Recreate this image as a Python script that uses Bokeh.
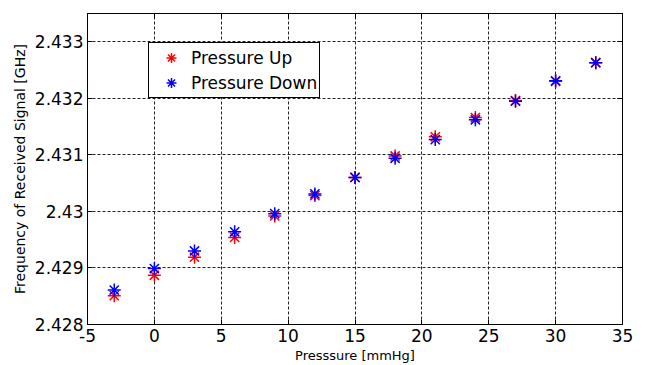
from bokeh.plotting import figure
from bokeh.models import (FixedTicker, CustomJSTickFormatter, LinearAxis,
                          Legend, LegendItem, Range1d)
from bokeh.embed import file_html
from bokeh.resources import INLINE

# Data
pressure = [-3, 0, 3, 6, 9, 12, 15, 18, 21, 24, 27, 30, 33]
freq_up = [2.42851, 2.42887, 2.42919, 2.42954, 2.42992, 2.43028, 2.43060,
           2.43098, 2.43132, 2.43166, 2.43196, 2.43230, 2.43263]
freq_down = [2.42861, 2.42899, 2.42930, 2.42964, 2.42996, 2.43031, 2.43060,
             2.43094, 2.43127, 2.43162, 2.43195, 2.43231, 2.43263]
x_ticks = [-5, 0, 5, 10, 15, 20, 25, 30, 35]
y_ticks = [2.428, 2.429, 2.430, 2.431, 2.432, 2.433]
x_label = "Presssure [mmHg]"
y_label = "Frequency of Received Signal [GHz]"
series_names = ["Pressure Up", "Pressure Down"]

FONT = "DejaVu Sans"

p = figure(width=650, height=365,
           min_border_left=87, min_border_right=28, min_border_top=13, min_border_bottom=41,
           x_range=Range1d(-5, 35), y_range=Range1d(2.428, 2.4335),
           output_backend="svg", toolbar_location=None, background_fill_color="white",
           border_fill_color="white")

p.outline_line_color = "black"
p.outline_line_alpha = 1.0
p.outline_line_width = 1

fmt_x = CustomJSTickFormatter(code="return tick.toFixed(0);")
fmt_y = CustomJSTickFormatter(code="return Number(tick.toFixed(3)).toString();")

p.xaxis.ticker = FixedTicker(ticks=x_ticks)
p.xaxis.formatter = fmt_x
p.yaxis.ticker = FixedTicker(ticks=y_ticks)
p.yaxis.formatter = fmt_y

for ax in [p.xaxis[0], p.yaxis[0]]:
    ax.major_tick_in = 5
    ax.major_tick_out = 0
    ax.minor_tick_line_color = None
    ax.axis_line_color = "black"
    ax.major_tick_line_color = "black"
    ax.major_label_text_font = FONT
    ax.major_label_text_font_size = "17px"
    ax.major_label_text_color = "black"
    ax.axis_label_text_font = FONT
    ax.axis_label_text_font_style = "normal"
    ax.axis_label_text_color = "black"

p.xaxis.major_label_standoff = 4
p.xaxis.axis_label = x_label
p.xaxis.axis_label_text_font_size = "13px"
p.xaxis.axis_label_standoff = 3

p.yaxis.major_label_standoff = 4
p.yaxis.axis_label = y_label
p.yaxis.axis_label_text_font_size = "14px"
p.yaxis.axis_label_standoff = 4

# Ticks on top and right (box style)
empty_fmt = CustomJSTickFormatter(code="return '';")
right_ax = LinearAxis(ticker=FixedTicker(ticks=y_ticks), formatter=empty_fmt,
                      major_tick_in=5, major_tick_out=0, minor_tick_line_color=None,
                      axis_line_color="black", major_label_standoff=0,
                      major_label_text_font_size="1px")
top_ax = LinearAxis(ticker=FixedTicker(ticks=x_ticks), formatter=empty_fmt,
                    major_tick_in=5, major_tick_out=0, minor_tick_line_color=None,
                    axis_line_color="black", major_label_standoff=0,
                    major_label_text_font_size="1px")
p.add_layout(right_ax, "right")
p.add_layout(top_ax, "above")

for g in [p.xgrid[0], p.ygrid[0]]:
    g.grid_line_color = "#222222"
    g.grid_line_dash = "3 2"
    g.grid_line_width = 1

r_up = p.scatter(pressure, freq_up, marker="asterisk", size=13, line_color="#ff0000",
                 line_width=1.5)
r_down = p.scatter(pressure, freq_down, marker="asterisk", size=13, line_color="#0000ff",
                   line_width=1.5)

legend = Legend(items=[LegendItem(label=series_names[0], renderers=[r_up]),
                       LegendItem(label=series_names[1], renderers=[r_down])],
                location=(61, 226), padding=2, spacing=0, label_height=25,
                glyph_height=25, glyph_width=40, label_standoff=-2,
                label_text_font=FONT, label_text_font_size="17px",
                label_text_color="black", border_line_color="black",
                border_line_width=1, border_line_alpha=1.0,
                background_fill_color="white", background_fill_alpha=1.0,
                margin=0)
p.add_layout(legend, "center")

open("out.html", "w").write(file_html(p, INLINE))
